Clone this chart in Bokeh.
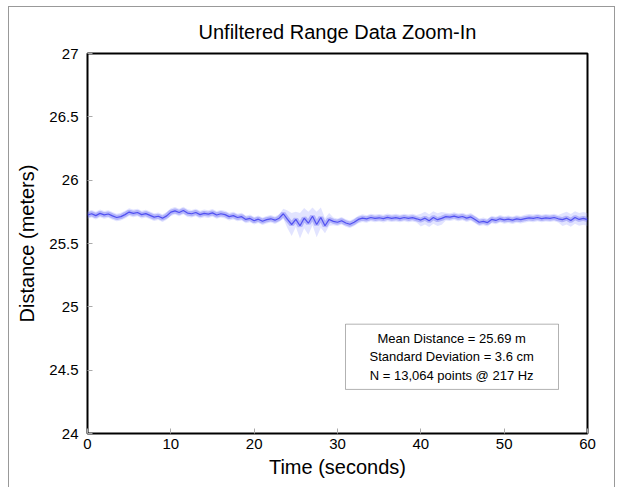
from bokeh.plotting import figure
from bokeh.models import Label, BoxAnnotation, Range1d, FixedTicker
from bokeh.embed import file_html
from bokeh.resources import INLINE

title_text = "Unfiltered Range Data Zoom-In"
x_label = "Time (seconds)"
y_label = "Distance (meters)"
x_ticks = [0, 10, 20, 30, 40, 50, 60]
y_ticks = [24, 24.5, 25, 25.5, 26, 26.5, 27]
stats_lines = ["Mean Distance = 25.69 m", "Standard Deviation = 3.6 cm", "N = 13,064 points @ 217 Hz"]

time_s = [i * 0.5 for i in range(121)]
distance_m = [
    25.725, 25.735, 25.720, 25.738, 25.726, 25.733, 25.718, 25.705, 25.712, 25.728,
    25.748, 25.738, 25.745, 25.728, 25.736, 25.722, 25.708, 25.715, 25.700, 25.718,
    25.748, 25.758, 25.745, 25.760, 25.740, 25.735, 25.745, 25.728, 25.738, 25.732,
    25.742, 25.725, 25.735, 25.728, 25.712, 25.720, 25.705, 25.712, 25.690, 25.698,
    25.680, 25.692, 25.676, 25.688, 25.695, 25.684, 25.700, 25.735, 25.690, 25.650,
    25.690, 25.640, 25.700, 25.660, 25.715, 25.650, 25.705, 25.640, 25.690, 25.675,
    25.668, 25.680, 25.662, 25.652, 25.668, 25.690, 25.700, 25.694, 25.705, 25.698,
    25.703, 25.696, 25.706, 25.699, 25.704, 25.697, 25.705, 25.698, 25.704, 25.695,
    25.685, 25.700, 25.680, 25.705, 25.688, 25.698, 25.712, 25.708, 25.716, 25.706,
    25.713, 25.700, 25.710, 25.690, 25.668, 25.675, 25.665, 25.690, 25.682, 25.695,
    25.686, 25.692, 25.684, 25.694, 25.688, 25.696, 25.702, 25.698, 25.705, 25.697,
    25.703, 25.699, 25.705, 25.695, 25.688, 25.700, 25.682, 25.705, 25.690, 25.698,
    25.688,
]
spread_m = (
    [0.030] * 47 + [0.040]
    + [0.07, 0.09, 0.06, 0.10, 0.08, 0.09, 0.07, 0.10, 0.08, 0.06, 0.05]
    + [0.030] * 21 + [0.05] * 6 + [0.030] * 28 + [0.05] * 7
)

FONT = "Liberation Sans"

p = figure(width=607, height=481, output_backend="svg", toolbar_location=None,
           x_range=Range1d(0, 60), y_range=Range1d(24, 27),
           min_border_left=78, min_border_right=29, min_border_top=46, min_border_bottom=55)
p.styles = {"margin-left": "8px", "margin-top": "6px",
            "border-left": "1px solid #999", "border-top": "1px solid #999",
            "border-right": "1px solid #999"}

p.title.text = title_text
p.title.align = "center"
p.title.text_font = FONT
p.title.text_font_size = "20px"
p.title.text_font_style = "normal"
p.title.text_color = "black"
p.title.standoff = 21

p.grid.visible = False
p.outline_line_color = "black"
p.outline_line_width = 2

for ax in (p.xaxis[0], p.yaxis[0]):
    ax.axis_line_color = None
    ax.major_tick_in = 5
    ax.major_tick_out = 0
    ax.major_tick_line_color = "#aaaaaa"
    ax.minor_tick_line_color = None
    ax.major_label_text_font = FONT
    ax.major_label_text_font_size = "15px"
    ax.major_label_text_color = "black"
    ax.axis_label_text_font = FONT
    ax.axis_label_text_font_size = "20px"
    ax.axis_label_text_font_style = "normal"
    ax.axis_label_text_color = "black"

p.xaxis.ticker = FixedTicker(ticks=x_ticks)
p.yaxis.ticker = FixedTicker(ticks=y_ticks)
p.yaxis.major_label_overrides = {24: "24", 25: "25", 26: "26", 27: "27"}
p.xaxis.axis_label = x_label
p.yaxis.axis_label = y_label
p.xaxis.major_label_standoff = 5
p.yaxis.major_label_standoff = 9
p.xaxis.axis_label_standoff = 4
p.yaxis.axis_label_standoff = 8

lower = [c - s for c, s in zip(distance_m, spread_m)]
upper = [c + s for c, s in zip(distance_m, spread_m)]
p.varea(x=time_s, y1=lower, y2=upper, fill_color="#a0a6ff", fill_alpha=0.3)
p.line(time_s, distance_m, line_color="#5a5af2", line_width=5, line_alpha=0.35)
p.line(time_s, distance_m, line_color="#4040ee", line_width=1.2, line_alpha=0.85)

box = BoxAnnotation(left=30.96, right=56.52, bottom=24.348, top=24.863,
                    fill_color="white", fill_alpha=1.0, line_color="black", line_width=1)
p.add_layout(box)
for i, t in enumerate(stats_lines):
    p.add_layout(Label(x=43.7, y=24.606, y_offset=18.5 * (1 - i), text=t,
                       text_align="center", text_baseline="middle",
                       text_font=FONT, text_font_size="13px", text_color="black"))

open("out.html", "w").write(file_html(p, INLINE))
